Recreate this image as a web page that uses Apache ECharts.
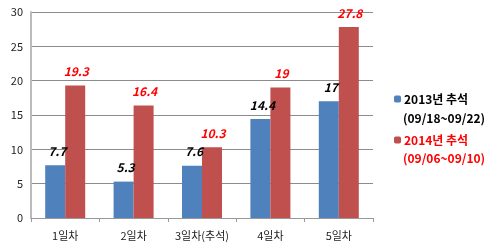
<!DOCTYPE html>
<html><head><meta charset="utf-8">
<script src="https://cdn.jsdelivr.net/npm/echarts@6/dist/echarts.min.js"></script>
<style>html,body{margin:0;padding:0;background:#fff}#c{width:500px;height:248px}</style>
</head><body><div id="c"></div>
<script>
const categories = ['1일차', '2일차', '3일차(추석)', '4일차', '5일차'];
const series2013 = [7.7, 5.3, 7.6, 14.4, 17];
const series2014 = [19.3, 16.4, 10.3, 19, 27.8];
const seriesNames = ['2013년 추석', '2014년 추석'];
const seriesDates = ['(09/18~09/22)', '(09/06~09/10)'];
const yTicks = { min: 0, max: 30, interval: 5 };

const FONT = '"Noto Sans CJK KR", "Noto Sans", sans-serif';
const chart = echarts.init(document.getElementById('c'));
chart.setOption({
  animation: false,
  textStyle: { fontFamily: FONT },
  grid: { left: 31, right: 127, top: 12, bottom: 30 },
  legend: {
    orient: 'vertical', left: 389, top: 88, itemWidth: 7, itemHeight: 7, itemGap: 29,
    selectedMode: false,
    data: [
      { name: seriesNames[0], textStyle: { color: '#000' } },
      { name: seriesNames[1], textStyle: { color: '#ff0000' } }
    ],
    textStyle: { fontSize: 12, fontWeight: 'bold', padding: [0,0,0,-2] }
  },
  graphic: [
    { type: 'text', left: 403, top: 112, style: { text: seriesDates[0], fill: '#000', font: 'bold 12px ' + FONT } },
    { type: 'text', left: 403, top: 152, style: { text: seriesDates[1], fill: '#ff0000', font: 'bold 12px ' + FONT } }
  ],
  xAxis: {
    type: 'category', data: categories,
    axisLine: { lineStyle: { color: '#999', width: 1 } },
    axisTick: { show: true, length: 4, lineStyle: { color: '#999' } },
    axisLabel: { color: '#222', fontSize: 11, margin: 12, interval: 0 }
  },
  yAxis: {
    type: 'value', min: yTicks.min, max: yTicks.max, interval: yTicks.interval,
    axisLine: { show: true, lineStyle: { color: '#bbb', width: 2 } },
    axisTick: { show: false },
    splitLine: { lineStyle: { color: '#8c8c8c' } },
    axisLabel: { color: '#222', fontSize: 11, margin: 8 }
  },
  series: [
    { name: seriesNames[0], type: 'bar', data: series2013, barWidth: 20, barGap: '0%',
      itemStyle: { color: '#4f81bd' },
      label: { show: true, position: 'top', distance: 8, offset: [2, 0], color: '#000', fontStyle: 'italic', fontWeight: 'bold', fontSize: 12 } },
    { name: seriesNames[1], type: 'bar', data: series2014, barWidth: 20,
      itemStyle: { color: '#c0504d' },
      label: { show: true, position: 'top', distance: 8, offset: [1, 0], color: '#ff0000', fontStyle: 'italic', fontWeight: 'bold', fontSize: 12 } }
  ]
});
</script></body></html>
